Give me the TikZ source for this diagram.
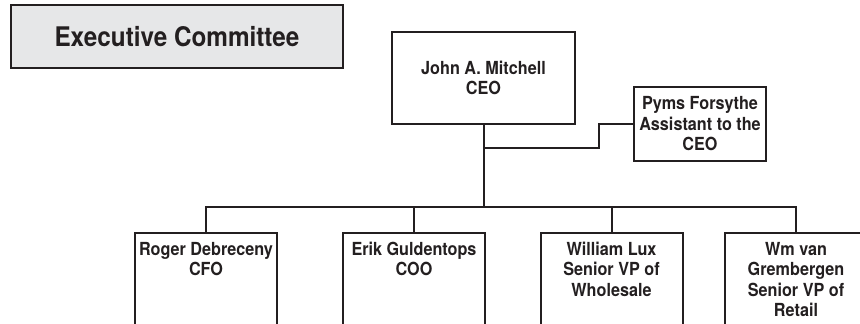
\documentclass[tikz,border=0pt]{standalone}
\usepackage{fontspec}
\setmainfont{TeX Gyre Heros}[FakeStretch=0.9]
\definecolor{inkline}{HTML}{231F20}
\definecolor{boardgray}{HTML}{E6E7E8}
\begin{document}
\begin{tikzpicture}[x=1pt,y=-1pt,
    line/.style={draw=inkline, line width=2pt},
    headbox/.style={line, fill=boardgray, minimum width=332pt, minimum height=63pt,
                    inner sep=0pt, font=\fontsize{27}{30}\selectfont\bfseries, text=inkline},
    topbox/.style={line, fill=white, inner sep=0pt, align=center,
                   font=\fontsize{18}{20.5}\selectfont\bfseries, text=inkline},
    staffbox/.style={line, fill=white, anchor=north, inner xsep=0pt, inner ysep=9pt,
                     font=\fontsize{18}{20.5}\selectfont\bfseries, text=inkline}]
  \useasboundingbox (0,0) rectangle (860,324);
  \clip (0,0) rectangle (860,324);

  \node [headbox] (exec) at (177,36.5) {Executive Committee};

  \node [topbox, minimum width=183pt, minimum height=92pt] (ceo) at (483.5,78)
        {John A. Mitchell\\CEO};
  \node [topbox, minimum width=132pt, minimum height=74pt] (asst) at (700,124)
        {Pyms Forsythe\\Assistant to the\\CEO};

  \node [staffbox] (cfo) at (206,232)
        {\parbox[c][110pt][t]{142pt}{\centering Roger Debreceny\\CFO}};
  \node [staffbox] (coo) at (414,232)
        {\parbox[c][110pt][t]{142pt}{\centering Erik Guldentops\\COO}};
  \node [staffbox] (whl) at (611.5,232)
        {\parbox[c][110pt][t]{142pt}{\centering William Lux\\Senior VP of\\Wholesale}};
  \node [staffbox] (ret) at (796,232)
        {\parbox[c][110pt][t]{142pt}{\centering Wm van\\Grembergen\\Senior VP of\\Retail}};

  % reporting lines
  \path (cfo.north) ++(0,-25) coordinate (bar);
  \path (ceo.south) ++(0,23) coordinate (split);
  \draw [line] (ceo.south) -- (ceo.south |- bar);
  \draw [line] (cfo.north) -- (bar) -| (ret.north);
  \draw [line] (coo.north) -- (coo.north |- bar);
  \draw [line] (whl.north) -- (whl.north |- bar);

  % staff position
  \draw [line] (split) -- ++(115,0) |- (asst.west);
\end{tikzpicture}
\end{document}
